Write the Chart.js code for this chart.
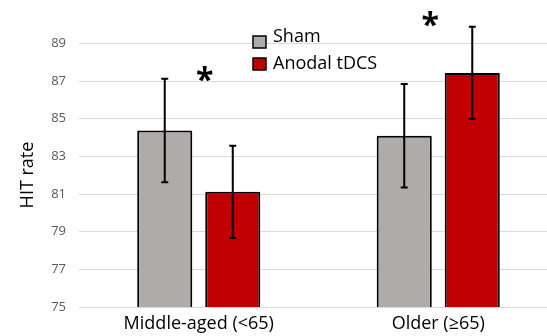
<!DOCTYPE html>
<html>
<head>
<meta charset="utf-8">
<script src="https://cdn.jsdelivr.net/npm/chart.js@4"></script>
<style>
  html, body { margin: 0; padding: 0; background: #fff; overflow: hidden; }
  #wrap { width: 560px; height: 336px; position: relative; }
</style>
</head>
<body>
<div id="wrap"><canvas id="hitChart"></canvas></div>
<script>
// ==========================================
// DATA
// ==========================================
const groups = ['Middle-aged (<65)', 'Older (\u226565)'];
const seriesNames = ['Sham', 'Anodal tDCS'];
const shamMeans = [84.37, 84.1];
const shamErrors = [2.75, 2.75];
const tdcsMeans = [81.12, 87.43];
const tdcsErrors = [2.45, 2.45];
const yTicks = [75, 77, 79, 81, 83, 85, 87, 89];

const FONT = "'Open Sans', 'Liberation Sans', sans-serif";

// error bars drawn through the scales
const errorBars = {
    id: 'errorBars',
    afterDatasetsDraw(chart) {
        const ctx = chart.ctx;
        const y = chart.scales.y;
        ctx.save();
        ctx.strokeStyle = '#000';
        ctx.lineWidth = 2;
        chart.data.datasets.forEach((ds, di) => {
            const meta = chart.getDatasetMeta(di);
            meta.data.forEach((bar, i) => {
                const m = ds.data[i], e = ds.errors[i];
                const top = y.getPixelForValue(m + e);
                const bot = y.getPixelForValue(m - e);
                ctx.beginPath();
                ctx.moveTo(bar.x, top); ctx.lineTo(bar.x, bot);
                ctx.moveTo(bar.x - 3.5, top); ctx.lineTo(bar.x + 3.5, top);
                ctx.moveTo(bar.x - 3.5, bot); ctx.lineTo(bar.x + 3.5, bot);
                ctx.stroke();
            });
        });
        ctx.restore();
    }
};

// asterisks, legend, axis title
const extras = {
    id: 'extras',
    afterDraw(chart) {
        const ctx = chart.ctx;
        const x = chart.scales.x, y = chart.scales.y;
        ctx.save();
        ctx.fillStyle = '#000';
        ctx.font = 'bold 32px ' + FONT;
        ctx.textAlign = 'center';
        ctx.textBaseline = 'middle';
        ctx.fillText('*', x.getPixelForValue(0) + 6, y.getPixelForValue(87.4) + 8);
        ctx.fillText('*', x.getPixelForValue(1) - 8, y.getPixelForValue(90.2) + 6);

        // legend
        const lx = 253, ly = [36, 58];
        ctx.font = '18px ' + FONT;
        ctx.textAlign = 'left';
        chart.data.datasets.forEach((ds, i) => {
            ctx.fillStyle = ds.backgroundColor;
            ctx.fillRect(lx, ly[i], 13, 12);
            ctx.strokeStyle = '#000';
            ctx.lineWidth = 1.5;
            ctx.strokeRect(lx, ly[i], 13, 12);
            ctx.fillStyle = '#000';
            ctx.fillText(ds.label, lx + 20, ly[i] + (i === 0 ? 1 : 6));
        });

        // y title
        ctx.translate(28, 175);
        ctx.rotate(-Math.PI / 2);
        ctx.textAlign = 'center';
        ctx.font = '18px ' + FONT;
        ctx.fillText('HIT rate', 0, 0);
        ctx.restore();
    }
};

new Chart(document.getElementById('hitChart'), {
    type: 'bar',
    data: {
        labels: groups,
        datasets: [
            {
                label: seriesNames[0],
                data: shamMeans,
                errors: shamErrors,
                backgroundColor: '#AFABAB',
                borderColor: '#000',
                borderWidth: 2,
                borderSkipped: false
            },
            {
                label: seriesNames[1],
                data: tdcsMeans,
                errors: tdcsErrors,
                backgroundColor: '#C00000',
                borderColor: '#000',
                borderWidth: 2,
                borderSkipped: false
            }
        ]
    },
    options: {
        responsive: true,
        maintainAspectRatio: false,
        animation: false,
        categoryPercentage: 0.568,
        barPercentage: 0.81,
        layout: { padding: { top: 17, right: 2, left: 0, bottom: 0 } },
        plugins: {
            legend: { display: false },
            tooltip: { enabled: false }
        },
        scales: {
            x: {
                grid: { display: false, drawTicks: false },
                border: { display: false },
                ticks: { color: '#000', font: { family: FONT, size: 18 }, padding: 6 },
                afterFit(s) { s.height = 29; }
            },
            y: {
                min: 75,
                max: 90.2,
                afterBuildTicks(axis) { axis.ticks = yTicks.map(v => ({ value: v })); },
                grid: { color: '#D9D9D9', lineWidth: 1, drawTicks: false },
                border: { display: false },
                ticks: { color: '#595959', font: { family: FONT, size: 13 }, padding: 13 },
                afterFit(s) { s.width = 79; }
            }
        }
    },
    plugins: [errorBars, extras]
});
</script>
</body>
</html>
